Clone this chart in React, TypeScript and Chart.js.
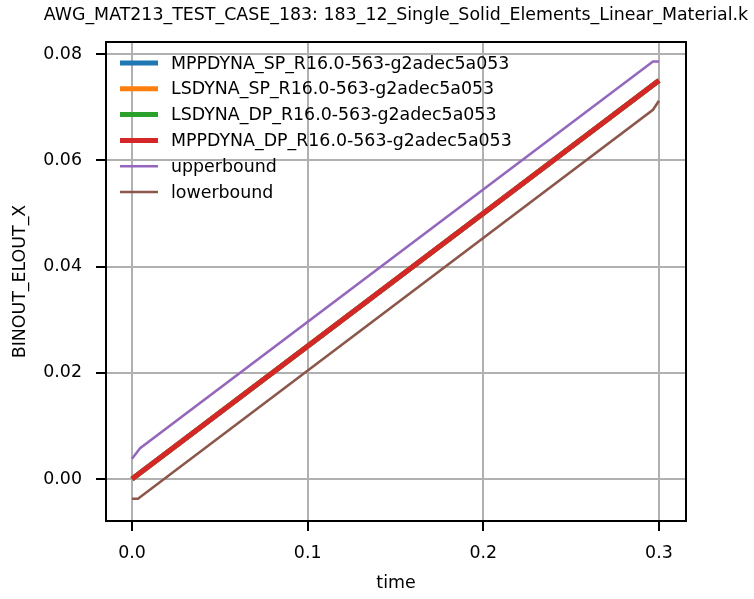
import React, { useEffect, useRef } from "react";
import { Chart, registerables } from "chart.js";

Chart.register(...registerables);

const TITLE = "AWG_MAT213_TEST_CASE_183: 183_12_Single_Solid_Elements_Linear_Material.k";
const X_LABEL = "time";
const Y_LABEL = "BINOUT_ELOUT_X";

const X_TICKS = [0.0, 0.1, 0.2, 0.3];
const Y_TICKS = [0.0, 0.02, 0.04, 0.06, 0.08];

const MAIN_T = [0.0, 0.3];
const MAIN_V = [0.0, 0.075];

const UPPER_T = [0.0, 0.0046, 0.2966, 0.3];
const UPPER_V = [0.0038, 0.0058, 0.0786, 0.0786];

const LOWER_T = [0.0, 0.0034, 0.2966, 0.3];
const LOWER_V = [-0.0037, -0.0037, 0.0695, 0.0712];

const SERIES_NAMES = [
  "MPPDYNA_SP_R16.0-563-g2adec5a053",
  "LSDYNA_SP_R16.0-563-g2adec5a053",
  "LSDYNA_DP_R16.0-563-g2adec5a053",
  "MPPDYNA_DP_R16.0-563-g2adec5a053",
  "upperbound",
  "lowerbound",
];
const COLORS = ["#1f77b4", "#ff7f0e", "#2ca02c", "#d62728", "#9467bd", "#8c564b"];

const FONT = "'DejaVu Sans', sans-serif";
const FS = 17.4;

const pts = (t: number[], v: number[]) => t.map((x, i) => ({ x, y: v[i] }));

export default function App() {
  const ref = useRef<HTMLCanvasElement | null>(null);
  useEffect(() => {
    document.body.style.margin = "0";
    const canvas = ref.current!;
    const widths = [5, 5, 5, 5, 2.5, 2.5];
    const all = SERIES_NAMES.map((name, i) => ({
      label: name,
      data: i < 4 ? pts(MAIN_T, MAIN_V) : i === 4 ? pts(UPPER_T, UPPER_V) : pts(LOWER_T, LOWER_V),
      borderColor: COLORS[i],
      backgroundColor: COLORS[i],
      borderWidth: widths[i],
      pointRadius: 0,
      fill: false,
      tension: 0,
      borderCapStyle: "butt" as const,
    }));
    // Chart.js draws the first dataset on top: reverse so later series sit on top
    const datasets = all.slice().reverse();

    const framePlugin = {
      id: "frame",
      afterDraw(chart: any) {
        const { ctx, chartArea: a } = chart;
        ctx.save();
        ctx.strokeStyle = "#000";
        ctx.lineWidth = 2;
        ctx.strokeRect(a.left, a.top, a.right - a.left, a.bottom - a.top);
        ctx.fillStyle = "#000";
        ctx.font = `${FS}px ${FONT}`;
        ctx.textAlign = "center";
        ctx.textBaseline = "middle";
        ctx.fillText(TITLE, (a.left + a.right) / 2, 15);
        ctx.textAlign = "left";
        SERIES_NAMES.forEach((name, i) => {
          const y = 63 + i * 25.8;
          ctx.strokeStyle = COLORS[i];
          ctx.lineWidth = widths[i];
          ctx.beginPath();
          ctx.moveTo(120, y);
          ctx.lineTo(158, y);
          ctx.stroke();
          ctx.fillStyle = "#000";
          ctx.fillText(name, 171, y + 1);
        });
        ctx.restore();
      },
    };

    const chart = new Chart(canvas, {
      type: "line",
      data: { datasets },
      options: {
        animation: false,
        responsive: false,
        devicePixelRatio: 1,
        parsing: false as any,
        layout: { padding: { left: 0, right: 68, top: 42, bottom: 0 } },
        plugins: { legend: { display: false }, tooltip: { enabled: false }, title: { display: false } },
        scales: {
          x: {
            type: "linear",
            min: -0.0148,
            max: 0.3154,
            afterBuildTicks: (s: any) => {
              s.ticks = X_TICKS.map((v) => ({ value: v }));
            },
            afterFit: (s: any) => {
              s.height = 78;
            },
            ticks: {
              color: "#000",
              font: { family: FONT, size: FS },
              padding: 12,
              maxRotation: 0,
              callback: (v: any) => Number(v).toFixed(1),
            },
            grid: { color: "#b0b0b0", lineWidth: 2, tickColor: "#000", tickLength: 10, tickWidth: 2 },
            border: { color: "#000", width: 2 },
            title: {
              display: true,
              text: X_LABEL,
              color: "#000",
              font: { family: FONT, size: FS },
              padding: { top: 0, bottom: 5 },
            },
          },
          y: {
            type: "linear",
            min: -0.0079,
            max: 0.08226,
            afterBuildTicks: (s: any) => {
              s.ticks = Y_TICKS.map((v) => ({ value: v }));
            },
            afterFit: (s: any) => {
              s.width = 106;
            },
            ticks: {
              color: "#000",
              font: { family: FONT, size: FS },
              padding: 14,
              callback: (v: any) => Number(v).toFixed(2),
            },
            grid: { color: "#b0b0b0", lineWidth: 2, tickColor: "#000", tickLength: 10, tickWidth: 2 },
            border: { color: "#000", width: 2 },
            title: {
              display: true,
              text: Y_LABEL,
              color: "#000",
              font: { family: FONT, size: FS },
              padding: { top: 10, bottom: 0 },
            },
          },
        },
      },
      plugins: [framePlugin],
    } as any);
    return () => chart.destroy();
  }, []);
  return (
    <div style={{ width: 754, height: 599 }}>
      <canvas ref={ref} width={754} height={599} style={{ display: "block" }} />
    </div>
  );
}
